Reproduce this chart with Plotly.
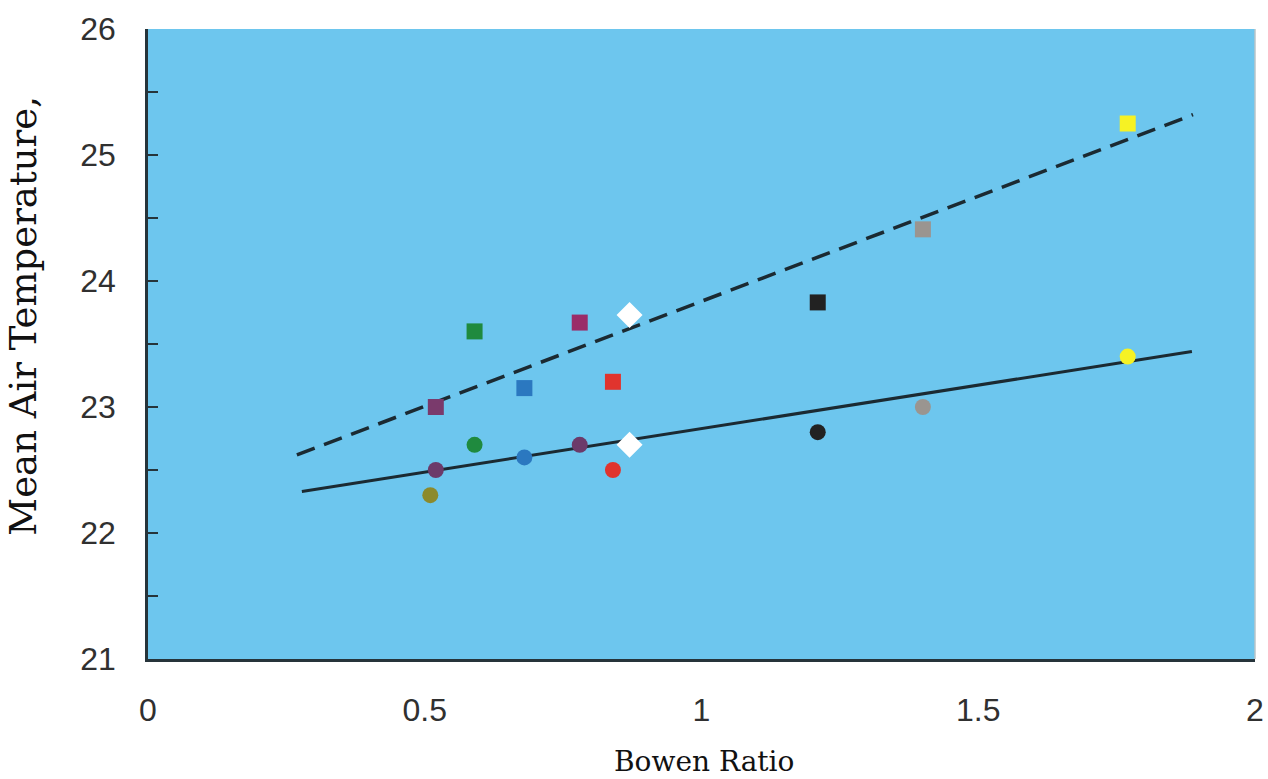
import plotly.graph_objects as go

# Data
sq_x = [0.52, 0.59, 0.68, 0.78, 0.84, 1.21, 1.40, 1.77]
sq_y = [23.00, 23.60, 23.15, 23.67, 23.20, 23.83, 24.41, 25.25]
sq_colors = ["#7A3A6C", "#1F8A3E", "#2B78C0", "#9A2C68", "#E0342E", "#222222", "#9A9590", "#F6F224"]

ci_x = [0.51, 0.52, 0.59, 0.68, 0.78, 0.84, 1.21, 1.40, 1.77]
ci_y = [22.30, 22.50, 22.70, 22.60, 22.70, 22.50, 22.80, 23.00, 23.40]
ci_colors = ["#8C8A2C", "#6C3A6A", "#1F8A3E", "#2B78C0", "#6C3A6A", "#E0342E", "#222222", "#9A9590", "#F6F224"]

dia_x = [0.87, 0.87]
dia_y = [23.73, 22.70]

dash_x = [0.269, 1.888]
dash_y = [22.62, 25.32]
solid_x = [0.278, 1.886]
solid_y = [22.33, 23.44]

x_ticks = [0, 0.5, 1, 1.5, 2]
x_labels = ["0", "0.5", "1", "1.5", "2"]
y_ticks = [21, 22, 23, 24, 25, 26]
y_labels = ["21", "22", "23", "24", "25", "26"]

x_title = "Bowen Ratio"
y_title = "Mean Air Temperature,"

line_col = "#1B2A32"
axis_col = "#26343A"

fig = go.Figure()
fig.add_trace(go.Scatter(x=dash_x, y=dash_y, mode="lines",
                         line=dict(color=line_col, width=3.5, dash="19px,10px"),
                         showlegend=False, hoverinfo="skip"))
fig.add_trace(go.Scatter(x=solid_x, y=solid_y, mode="lines",
                         line=dict(color=line_col, width=3),
                         showlegend=False, hoverinfo="skip"))
fig.add_trace(go.Scatter(x=sq_x, y=sq_y, mode="markers",
                         marker=dict(symbol="square", size=16, color=sq_colors, line=dict(width=0)),
                         showlegend=False))
fig.add_trace(go.Scatter(x=ci_x, y=ci_y, mode="markers",
                         marker=dict(symbol="circle", size=16, color=ci_colors, line=dict(width=0)),
                         showlegend=False))
fig.add_trace(go.Scatter(x=dia_x, y=dia_y, mode="markers",
                         marker=dict(symbol="diamond", size=20, color="#FFFFFF", line=dict(width=0)),
                         showlegend=False))

fig.update_layout(
    width=1268, height=779,
    margin=dict(l=148, r=13, t=29, b=120),
    paper_bgcolor="white",
    plot_bgcolor="#6DC6EE",
    showlegend=False,
    xaxis=dict(range=[0, 2], tickvals=x_ticks, ticktext=x_labels,
               showgrid=False, zeroline=False, automargin=False,
               showline=True, linecolor=axis_col, linewidth=2.5,
               ticks="", ticklabelstandoff=21,
               tickfont=dict(family="Liberation Sans", size=32, color="#303030")),
    yaxis=dict(range=[21, 26], tickvals=y_ticks, ticktext=y_labels,
               showgrid=False, zeroline=False, automargin=False,
               showline=True, linecolor=axis_col, linewidth=2.5,
               ticks="inside", ticklen=10, tickwidth=2, tickcolor=axis_col,
               minor=dict(dtick=0.5, ticks="inside", ticklen=10, tickwidth=2, tickcolor=axis_col),
               ticklabelstandoff=23,
               tickfont=dict(family="Liberation Sans", size=32, color="#303030")),
    shapes=[dict(type="line", xref="paper", yref="paper", x0=1, x1=1, y0=0, y1=1,
                 line=dict(color="#B8C4C8", width=1.5))],
    annotations=[
        dict(text=x_title, xref="paper", yref="paper", x=0.502, y=-0.163,
             xanchor="center", yanchor="middle", showarrow=False,
             font=dict(family="DejaVu Serif", size=28, color="#111111")),
        dict(text=y_title, xref="paper", yref="paper", x=-0.112, y=0.545,
             xanchor="center", yanchor="middle", textangle=-90, showarrow=False,
             font=dict(family="DejaVu Serif", size=37, color="#111111")),
    ]
)

fig.write_html("out.html",
               config={"displayModeBar": False},
               post_script="document.body.style.margin='0px';document.body.style.overflow='hidden';")
